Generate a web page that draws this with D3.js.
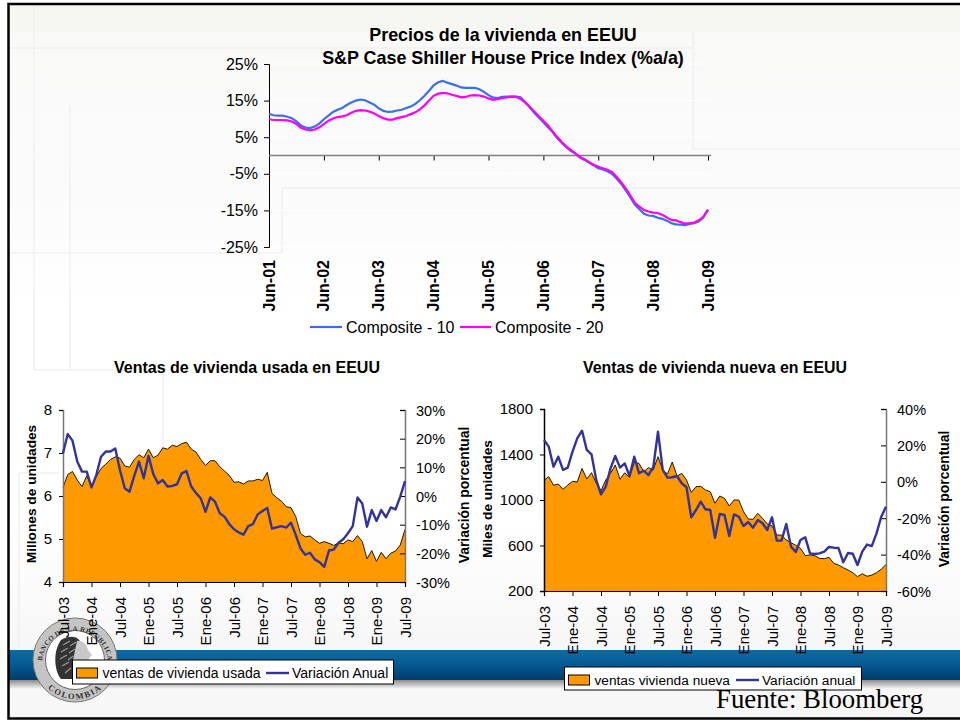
<!DOCTYPE html>
<html><head><meta charset="utf-8">
<script src="https://cdn.jsdelivr.net/npm/d3@7/dist/d3.min.js"></script>
<style>
html,body{margin:0;padding:0;background:#fff;overflow:hidden}
svg{display:block}
text{font-family:"Liberation Sans",Arial,sans-serif;fill:#000}
</style></head><body>
<svg id="c" width="960" height="721"></svg>
<script>
// ---------- Data: S&P Case Shiller (monthly, Jun-01 .. Jun-09)
const composite10 = [11.4,11,10.9,10.9,10.6,10.2,9.3,8.2,7.6,7.5,7.9,8.7,9.9,10.9,11.9,12.5,13,13.8,14.5,15,15.3,15.1,14.5,13.9,12.9,12.2,11.9,12,12.3,12.5,13,13.4,14.1,15.1,16.3,17.7,19.2,20,20.4,19.9,19.5,19.1,18.6,18.5,18.5,18.5,18.1,17.4,16.5,15.8,15.7,16,16.1,16.1,16.1,15.9,14.6,13.2,11.7,10.4,9.1,7.7,6.4,4.8,3.5,2.3,1.3,0.5,-0.6,-1.2,-1.9,-2.7,-3.5,-3.8,-4.3,-5,-6.3,-7.7,-9.5,-11.4,-13.4,-14.7,-15.9,-16.4,-16.5,-17,-17.3,-17.8,-18.5,-18.8,-18.9,-19,-18.7,-18.5,-18,-16.9,-14.8];
const composite20 = [9.9,9.7,9.7,9.7,9.6,9.3,8.6,7.6,7.1,6.9,7.1,7.7,8.6,9.5,10.1,10.5,10.7,11,11.7,12.2,12.4,12.3,12,11.5,10.8,10.2,9.8,9.8,10.2,10.5,10.8,11.3,11.8,12.6,13.7,15,16.3,16.9,17.1,17,16.6,16.3,15.9,16,16.4,16.5,16.4,16.1,15.6,15.2,15.4,15.7,15.9,16.1,16,15.5,14.5,13.3,12,10.7,9.5,8.2,6.6,5.1,3.7,2.5,1.5,0.6,-0.4,-1,-1.8,-2.5,-3.1,-3.5,-3.9,-4.5,-5.8,-7.3,-9,-10.9,-12.9,-14,-14.9,-15.3,-15.6,-15.7,-16.2,-16.9,-17.6,-17.7,-18.2,-18.6,-18.5,-18.3,-17.7,-16.7,-14.8];
const priceTickLabels = ["Jun-01","Jun-02","Jun-03","Jun-04","Jun-05","Jun-06","Jun-07","Jun-08","Jun-09"];
const priceTicks = [25,15,5,-5,-15,-25];

// ---------- Data: home sales (monthly, Jul-03 .. Jul-09)
const salesTickLabels = ["Jul-03","Ene-04","Jul-04","Ene-05","Jul-05","Ene-06","Jul-06","Ene-07","Jul-07","Ene-08","Jul-08","Ene-09","Jul-09"];
const usadaVentas = [6.2,6.5,6.57,6.37,6.22,6.47,6.22,6.45,6.64,6.74,6.85,6.91,6.88,6.7,6.67,6.85,6.96,6.89,7.09,6.89,6.95,7.12,7.09,7.18,7.15,7.22,7.25,7.09,7.02,6.85,6.71,6.82,6.82,6.68,6.58,6.48,6.32,6.33,6.28,6.35,6.35,6.39,6.36,6.55,6.06,5.96,5.88,5.75,5.73,5.52,5.13,5.05,5.07,4.98,4.9,4.94,4.9,4.85,4.91,4.89,4.98,4.94,5.08,4.94,4.54,4.73,4.48,4.69,4.54,4.67,4.72,4.86,5.22];
const usadaVariacion = [14.9,21.6,19.3,12,8.5,8.5,3,7.3,13.7,15.5,15.5,16.6,9,2.7,1.5,7,12,6.2,14,7.7,4.4,5.6,3.3,3.5,4.1,7.9,8.7,3.3,1,-0.8,-5.5,-0.5,-2,-6,-7.2,-9.8,-11.6,-12.7,-13.5,-10.5,-9.8,-6.4,-5.2,-4.2,-11.4,-10.9,-10.5,-11,-9.3,-13.6,-18.3,-20.5,-19.8,-22.1,-23.1,-24.7,-19,-18.7,-16.3,-15.1,-13,-10.5,-0.5,-2.6,-10.7,-4.9,-8.7,-4.9,-7.4,-4,-4.7,-0.2,5.2];
const nuevaVentas = [1173,1205,1129,1141,1094,1132,1164,1158,1278,1185,1240,1147,1082,1176,1234,1308,1182,1240,1199,1331,1322,1249,1284,1264,1381,1264,1229,1334,1211,1234,1176,1067,1117,1120,1088,1073,971,1035,1015,947,1000,1000,898,833,830,883,839,789,772,692,692,648,625,602,575,510,517,511,487,484,496,443,429,405,385,361,326,352,329,340,361,391,432];
const nuevaVariacion = [23,19.3,8.3,13.8,6.5,7.8,16.6,23.9,28.1,17.5,15.1,1,-6.9,-2.7,7.4,14.2,7.8,10.1,3.2,13.8,4.7,6.1,3.7,8,27.5,6.5,2.3,2.5,3.2,-0.8,-3,-19.5,-15.5,-10.9,-15.1,-15.5,-30.7,-17.7,-18.2,-29.8,-17.9,-19.2,-24.3,-22.1,-25.2,-21,-22.8,-26.5,-19.5,-32.3,-32.3,-23.2,-35.6,-38.6,-32,-30.5,-39.3,-39.7,-39.3,-38.4,-35.8,-36.2,-36.4,-44.2,-39.1,-39.5,-45.7,-38.4,-34.5,-35.3,-28.3,-19.2,-13.7];

const svg = d3.select("#c");
const defs = svg.append("defs");
function grad(id, stops){
  const g = defs.append("linearGradient").attr("id",id).attr("x1",0).attr("x2",0).attr("y1",0).attr("y2",1);
  stops.forEach(s=>g.append("stop").attr("offset",s[0]).attr("stop-color",s[1]));
}
grad("bg",[[0,"#f9f9f8"],[0.28,"#fbfbfb"],[0.42,"#ffffff"],[0.72,"#ffffff"],[0.9,"#f7f7f7"],[1,"#f7f7f7"]]);
grad("band",[[0,"#0a6ba6"],[0.35,"#07609a"],[1,"#003c68"]]);
grad("shade",[[0,"#8c8c8c"],[1,"#f7f7f7"]]);

// ---------- Slide background
svg.append("rect").attr("width",960).attr("height",721).attr("fill","#fff");
svg.append("rect").attr("x",8).attr("y",4).attr("width",952).attr("height",715).attr("fill","url(#bg)");
svg.append("rect").attr("x",9).attr("y",5).attr("width",951).attr("height",27).attr("fill","#f7f7f1");
const faint = [[34,5,34,370],[9,48,693,48],[693,32,693,149],[693,149,960,149],[9,253,282,253],[282,188,282,253],[282,188,960,188],[70,106,70,370],[34,370,163,370],[163,370,163,560],[19,473,60,473],[19,473,19,650]];
svg.append("g").selectAll("line").data(faint).join("line")
  .attr("x1",d=>d[0]).attr("y1",d=>d[1]).attr("x2",d=>d[2]).attr("y2",d=>d[3])
  .attr("stroke","#f0f0f0").attr("stroke-width",1.5);
svg.append("rect").attr("x",9).attr("y",650).attr("width",951).attr("height",30).attr("fill","url(#band)");
svg.append("rect").attr("x",9).attr("y",680).attr("width",951).attr("height",9).attr("fill","url(#shade)");
// Frame
svg.append("path").attr("d","M960 4H8.5V718.5H960").attr("fill","none").attr("stroke","#000").attr("stroke-width",2.5);

// ---------- Logo
const logo = svg.append("g").attr("transform","translate(75,660)");
logo.append("circle").attr("r",42).attr("fill","#c4c4c4").attr("stroke","#777").attr("stroke-width",1);
logo.append("circle").attr("r",29.5).attr("fill","#fff").attr("stroke","#666").attr("stroke-width",1);
defs.append("path").attr("id","arcTop").attr("d","M-33 4A33 33 0 1 1 33 4");
defs.append("path").attr("id","arcBot").attr("d","M-33 21A39 39 0 0 0 33 21");
logo.append("text").attr("style","font-family:'Liberation Serif',serif;font-weight:bold;font-size:7px;letter-spacing:0.3px;fill:#333")
  .append("textPath").attr("href","#arcTop").attr("startOffset","50%").attr("text-anchor","middle").text("BANCO DE LA REPUBLICA");
logo.append("text").attr("style","font-family:'Liberation Serif',serif;font-weight:bold;font-size:8.5px;letter-spacing:1.5px;fill:#333")
  .append("textPath").attr("href","#arcBot").attr("startOffset","50%").attr("text-anchor","middle").text("COLOMBIA");
logo.append("path").attr("d","M-14 -20C-6 -25 2 -24 5 -19L6 -4L6 6L0 12L-3 19L-14 19C-21 10 -22 -9 -14 -20Z").attr("fill","#333");
logo.append("path").attr("d","M2 -19C8 -20 12 -15 13 -10L17 -5L14 -2L14 2L6 3L2 8L-2 0Z").attr("fill","#c8c8c8");
const leaves = [[-12,-15,-5,-19],[-14,-8,-7,-12],[-15,-1,-8,-5],[-13,6,-6,2],[-10,13,-4,8],[-5,-14,1,-18],[-6,-7,0,-11],[-7,0,-2,-4]];
logo.append("g").selectAll("line").data(leaves).join("line")
  .attr("x1",d=>d[0]).attr("y1",d=>d[1]).attr("x2",d=>d[2]).attr("y2",d=>d[3])
  .attr("stroke","#9a9a9a").attr("stroke-width",1.2);

// ---------- Top chart
const top10X = d3.scaleLinear().domain([0,96]).range([269,708]);
const topY = d3.scaleLinear().domain([-25,25]).range([247,64]);
svg.append("g").selectAll("line").data(priceTicks).join("line")
  .attr("x1",269).attr("x2",711).attr("y1",d=>topY(d)).attr("y2",d=>topY(d))
  .attr("stroke","#fff").attr("stroke-width",1);
svg.append("text").attr("x",503).attr("y",41).attr("text-anchor","middle")
  .style("font-weight","bold").style("font-size","17.9px").text("Precios de la vivienda en EEUU");
svg.append("text").attr("x",503).attr("y",64).attr("text-anchor","middle")
  .style("font-weight","bold").style("font-size","17.9px").text("S&P Case Shiller House Price Index (%a/a)");

const yTop = svg.append("g").attr("transform","translate(269,0)")
  .call(d3.axisLeft(topY).tickValues(priceTicks).tickSize(5).tickPadding(6).tickFormat(d=>d+"%"));
yTop.selectAll("line,path").attr("stroke","#000");
yTop.selectAll("text").style("font-size","16px");

const xTop = svg.append("g").attr("transform",`translate(0,${topY(0)})`)
  .call(d3.axisBottom(top10X).tickValues(priceTickLabels.map((_,i)=>i*12)).tickSize(5).tickFormat(""));
xTop.select("path").attr("stroke","none");
xTop.selectAll("line").attr("stroke","#000");
svg.append("line").attr("x1",269).attr("x2",711).attr("y1",topY(0)).attr("y2",topY(0)).attr("stroke","#808080").attr("stroke-width",1.5);
svg.append("g").selectAll("text").data(priceTickLabels).join("text")
  .attr("transform",(d,i)=>`translate(${top10X(i*12)+5.5},260) rotate(-90)`)
  .attr("text-anchor","end").style("font-weight","bold").style("font-size","16px").text(d=>d);

const topLine = d3.line().x((d,i)=>top10X(i)).y(d=>topY(d));
svg.append("path").attr("d",topLine(composite10)).attr("fill","none").attr("stroke","#3a6df0").attr("stroke-width",2.2);
svg.append("path").attr("d",topLine(composite20)).attr("fill","none").attr("stroke","#ff00f0").attr("stroke-width",2.2);
svg.append("line").attr("x1",310).attr("x2",342).attr("y1",327).attr("y2",327).attr("stroke","#3a6df0").attr("stroke-width",2.2);
svg.append("text").attr("x",346).attr("y",332.5).style("font-size","16px").text("Composite - 10");
svg.append("line").attr("x1",460).attr("x2",491).attr("y1",327).attr("y2",327).attr("stroke","#ff00f0").attr("stroke-width",2.2);
svg.append("text").attr("x",495).attr("y",332.5).style("font-size","16px").text("Composite - 20");

// ---------- Dual-axis sales chart
function salesChart(o){
  const x = d3.scaleLinear().domain([0,72]).range([o.x0,o.x1]);
  const yL = d3.scaleLinear().domain(o.leftDomain).range([o.y1,o.y0]);
  const yR = d3.scaleLinear().domain(o.rightDomain).range([o.y1,o.y0]);
  const g = svg.append("g");
  g.append("text").attr("x",o.titleX).attr("y",372.5).attr("text-anchor","middle")
    .style("font-weight","bold").style("font-size",o.titleSize).text(o.title);
  g.append("path").attr("d",d3.area().x((d,i)=>x(i)).y0(o.y1).y1(d=>yL(d))(o.sales)).attr("fill","#ff9900");
  g.append("path").attr("d",d3.line().x((d,i)=>x(i)).y(d=>yL(d))(o.sales)).attr("fill","none").attr("stroke","#1a1a00").attr("stroke-width",1);

  const aL = g.append("g").attr("transform",`translate(${o.x0},0)`)
    .call(d3.axisLeft(yL).tickValues(o.leftTicks).tickSize(4).tickPadding(7).tickFormat(d3.format("d")));
  aL.select("path").attr("stroke",o.leftAxisColor).attr("stroke-width",1.5);
  aL.selectAll("line").attr("stroke","#000");
  aL.selectAll("text").style("font-size","15px");

  const aR = g.append("g").attr("transform",`translate(${o.x1},0)`)
    .call(d3.axisLeft(yR).tickValues(o.rightTicks).tickSize(5).tickFormat(""));
  aR.select("path").attr("stroke","#777").attr("stroke-width",1.5);
  aR.selectAll("line").attr("stroke","#000");
  g.append("g").selectAll("text").data(o.rightTicks).join("text")
    .attr("x",o.x1+11).attr("y",d=>yR(d)+5.5).style("font-size","14.5px").text(d=>d+"%");

  const aB = g.append("g").attr("transform",`translate(0,${o.y1})`)
    .call(d3.axisBottom(x).tickValues(o.labels.map((_,i)=>i*6)).tickSize(5).tickFormat(""));
  aB.select("path").attr("stroke","#000").attr("stroke-width",1.2);
  aB.selectAll("line").attr("stroke","#000");
  g.append("g").selectAll("text").data(o.labels).join("text")
    .attr("transform",(d,i)=>`translate(${x(i*6)+5.5},${o.y1+15}) rotate(-90)`)
    .attr("text-anchor","end").style("font-size","15px").text(d=>d);

  g.append("path").attr("d",d3.line().x((d,i)=>x(i)).y(d=>yR(d))(o.variation))
    .attr("fill","none").attr("stroke","#333399").attr("stroke-width",2.4).attr("stroke-linejoin","round");

  g.append("text").attr("transform",`translate(${o.leftTitleX},${o.leftTitleY}) rotate(-90)`).attr("text-anchor","middle")
    .style("font-weight","bold").style("font-size","13.7px").text(o.leftTitle);
  g.append("text").attr("transform",`translate(${o.rightTitleX},${o.rightTitleY}) rotate(-90)`).attr("text-anchor","middle")
    .style("font-weight","bold").style("font-size","13.9px").text("Variación porcentual");

  // legend
  const L = o.legend, lg = svg.append("g");
  lg.append("rect").attr("x",L.x).attr("y",L.y).attr("width",L.w).attr("height",L.h).attr("fill","#fff").attr("stroke","#000").attr("stroke-width",1);
  lg.append("rect").attr("x",L.x+4).attr("y",L.y+8).attr("width",21).attr("height",10).attr("fill","#ff9900").attr("stroke","#000").attr("stroke-width",1);
  lg.append("text").attr("x",L.x+30).attr("y",L.y+18).style("font-size",L.fs).text(L.a);
  lg.append("line").attr("x1",L.lx).attr("x2",L.lx+23).attr("y1",L.y+13).attr("y2",L.y+13).attr("stroke","#333399").attr("stroke-width",2.4);
  lg.append("text").attr("x",L.lx+26).attr("y",L.y+18).style("font-size",L.fs).text(L.b);
}

salesChart({title:"Ventas de vivienda usada en EEUU",titleX:247,titleSize:"16px",x0:63,x1:405,y0:410,y1:582,
  leftDomain:[4,8],rightDomain:[-30,30],leftTicks:[4,5,6,7,8],rightTicks:[-30,-20,-10,0,10,20,30],
  sales:usadaVentas,variation:usadaVariacion,labels:salesTickLabels,leftAxisColor:"#777",
  leftTitle:"Millones de unidades",leftTitleX:36,leftTitleY:494,rightTitleX:469,rightTitleY:495,
  legend:{x:72.5,y:660,w:321,h:24,a:"ventas de vivienda usada",b:"Variación Anual",lx:266,fs:"14px"}});
salesChart({title:"Ventas de vivienda nueva en EEUU",titleX:715,titleSize:"15.9px",x0:544,x1:886,y0:409,y1:591,
  leftDomain:[200,1800],rightDomain:[-60,40],leftTicks:[200,600,1000,1400,1800],rightTicks:[-60,-40,-20,0,20,40],
  sales:nuevaVentas,variation:nuevaVariacion,labels:salesTickLabels,leftAxisColor:"#000",
  leftTitle:"Miles de unidades",leftTitleX:492,leftTitleY:499,rightTitleX:949,rightTitleY:499,
  legend:{x:564.5,y:667,w:297,h:23,a:"ventas vivienda nueva",b:"Variación anual",lx:736,fs:"13.7px"}});

svg.append("text").attr("x",716).attr("y",708).style("font-family","'Liberation Serif',serif").style("font-size","26.8px").text("Fuente: Bloomberg");
</script>
</body></html>
